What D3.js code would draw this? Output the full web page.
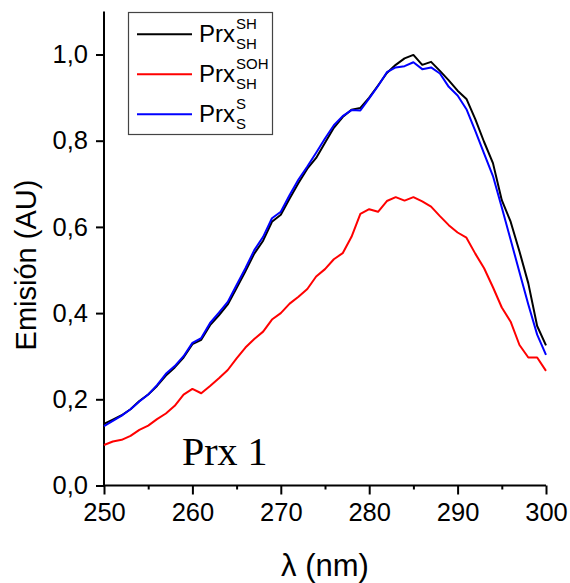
<!DOCTYPE html>
<html>
<head>
<meta charset="utf-8">
<script src="https://cdn.jsdelivr.net/npm/d3@7"></script>
<style>
  body { margin: 0; background: #fff; }
  svg { display: block; font-family: "Liberation Sans", Arial, sans-serif; }
</style>
</head>
<body>
<svg id="chart" width="570" height="583"></svg>
<script>
// wavelength (nm)
const wavelengths = d3.range(250, 301);

const prxSH = [
  0.143, 0.153, 0.163, 0.177, 0.196, 0.211, 0.231, 0.255, 0.274, 0.297,
  0.328, 0.338, 0.372, 0.395, 0.420, 0.458, 0.497, 0.538, 0.568, 0.612,
  0.628, 0.666, 0.702, 0.735, 0.760, 0.795, 0.830, 0.855, 0.872, 0.876,
  0.900, 0.928, 0.957, 0.976, 0.991, 0.999, 0.976, 0.983, 0.962, 0.940,
  0.916, 0.897, 0.850, 0.797, 0.748, 0.662, 0.612, 0.543, 0.469, 0.370,
  0.325
];

const prxSOH = [
  0.094, 0.102, 0.106, 0.115, 0.129, 0.139, 0.154, 0.167, 0.185, 0.211,
  0.224, 0.214, 0.231, 0.249, 0.268, 0.295, 0.320, 0.340, 0.357, 0.385,
  0.400, 0.422, 0.438, 0.456, 0.485, 0.502, 0.525, 0.539, 0.577, 0.630,
  0.641, 0.635, 0.660, 0.669, 0.661, 0.669, 0.659, 0.647, 0.625, 0.604,
  0.587, 0.575, 0.538, 0.504, 0.460, 0.413, 0.380, 0.326, 0.297, 0.297,
  0.266
];

const prxSS = [
  0.138, 0.150, 0.162, 0.177, 0.195, 0.211, 0.233, 0.259, 0.277, 0.300,
  0.331, 0.342, 0.377, 0.401, 0.426, 0.465, 0.504, 0.546, 0.577, 0.620,
  0.635, 0.674, 0.710, 0.740, 0.772, 0.805, 0.836, 0.857, 0.871, 0.870,
  0.898, 0.927, 0.959, 0.970, 0.973, 0.982, 0.966, 0.970, 0.956, 0.925,
  0.905, 0.873, 0.823, 0.770, 0.718, 0.645, 0.570, 0.495, 0.420, 0.350,
  0.303
];

const xTicks = [250, 260, 270, 280, 290, 300];
const xMinorTicks = [255, 265, 275, 285, 295];
const yTicks = [0, 0.2, 0.4, 0.6, 0.8, 1.0];

const series = [
  { sup: "SH", sub: "SH", color: "#000000", values: prxSH },
  { sup: "SOH", sub: "SH", color: "#ff0000", values: prxSOH },
  { sup: "S", sub: "S", color: "#0000ff", values: prxSS }
];

const svg = d3.select("#chart");
const plotLeft = 104, plotRight = 546, plotTop = 11.4, plotBottom = 485.5;

const x = d3.scaleLinear().domain([250, 300]).range([plotLeft, plotRight]);
const y = d3.scaleLinear().domain([0, 1.1]).range([plotBottom, plotTop]);
const fmt = d => d3.format(".1f")(d).replace(".", ",");

// axes
svg.append("g")
    .attr("transform", `translate(0,${plotBottom})`)
    .call(d3.axisBottom(x).tickValues(xTicks).tickSize(9).tickPadding(8).tickFormat(d3.format("d")));
svg.append("g")
    .attr("transform", `translate(0,${plotBottom})`)
    .call(d3.axisBottom(x).tickValues(xMinorTicks).tickSize(4).tickFormat(""));
svg.append("g")
    .attr("transform", `translate(${plotLeft},0)`)
    .call(d3.axisLeft(y).tickValues(yTicks).tickSize(8).tickPadding(8).tickFormat(fmt));

svg.selectAll(".tick line").attr("stroke", "#000").attr("stroke-width", 2);
svg.selectAll(".tick text").attr("font-size", 25.5).attr("fill", "#000")
    .attr("font-family", "'Liberation Sans', Arial, sans-serif");
// replace the default domain paths with plain lines (no end caps)
svg.selectAll(".domain").remove();
svg.append("line").attr("x1", plotLeft).attr("x2", plotRight)
    .attr("y1", plotBottom).attr("y2", plotBottom).attr("stroke", "#000").attr("stroke-width", 2);
svg.append("line").attr("x1", plotLeft).attr("x2", plotLeft)
    .attr("y1", plotTop).attr("y2", plotBottom).attr("stroke", "#000").attr("stroke-width", 2);

// curves
const line = d3.line()
    .x((d, i) => x(wavelengths[i]))
    .y(d => y(d));

svg.append("g").selectAll("path")
  .data(series)
  .join("path")
    .attr("fill", "none")
    .attr("stroke", d => d.color)
    .attr("stroke-width", 2)
    .attr("stroke-linejoin", "round")
    .attr("d", d => line(d.values));

// axis titles
svg.append("text")
    .attr("x", 325)
    .attr("y", 576)
    .attr("text-anchor", "middle")
    .attr("font-size", 31)
    .text("λ (nm)");

svg.append("text")
    .attr("transform", "translate(36,265) rotate(-90)")
    .attr("text-anchor", "middle")
    .attr("font-size", 29)
    .text("Emisión (AU)");

// panel label
svg.append("text")
    .attr("x", 182)
    .attr("y", 465)
    .attr("font-family", "'Liberation Serif', 'Times New Roman', serif")
    .attr("font-size", 40)
    .text("Prx 1");

// legend
const legend = svg.append("g");
legend.append("rect")
    .attr("x", 128.5).attr("y", 12.5)
    .attr("width", 144).attr("height", 122)
    .attr("fill", "#fff")
    .attr("stroke", "#444")
    .attr("stroke-width", 1.2);

const rows = legend.selectAll("g.row")
  .data(series)
  .join("g")
    .attr("class", "row")
    .attr("transform", (d, i) => `translate(0,${34.3 + i * 40})`);

rows.append("line")
    .attr("x1", 137).attr("x2", 192)
    .attr("y1", 0).attr("y2", 0)
    .attr("stroke", d => d.color)
    .attr("stroke-width", 2);

rows.append("text")
    .attr("x", 199).attr("y", 8)
    .attr("font-size", 24)
    .text("Prx");
rows.append("text")
    .attr("x", 236).attr("y", -5.5)
    .attr("font-size", 15)
    .text(d => d.sup);
rows.append("text")
    .attr("x", 236).attr("y", 14.5)
    .attr("font-size", 15)
    .text(d => d.sub);
</script>
</body>
</html>
